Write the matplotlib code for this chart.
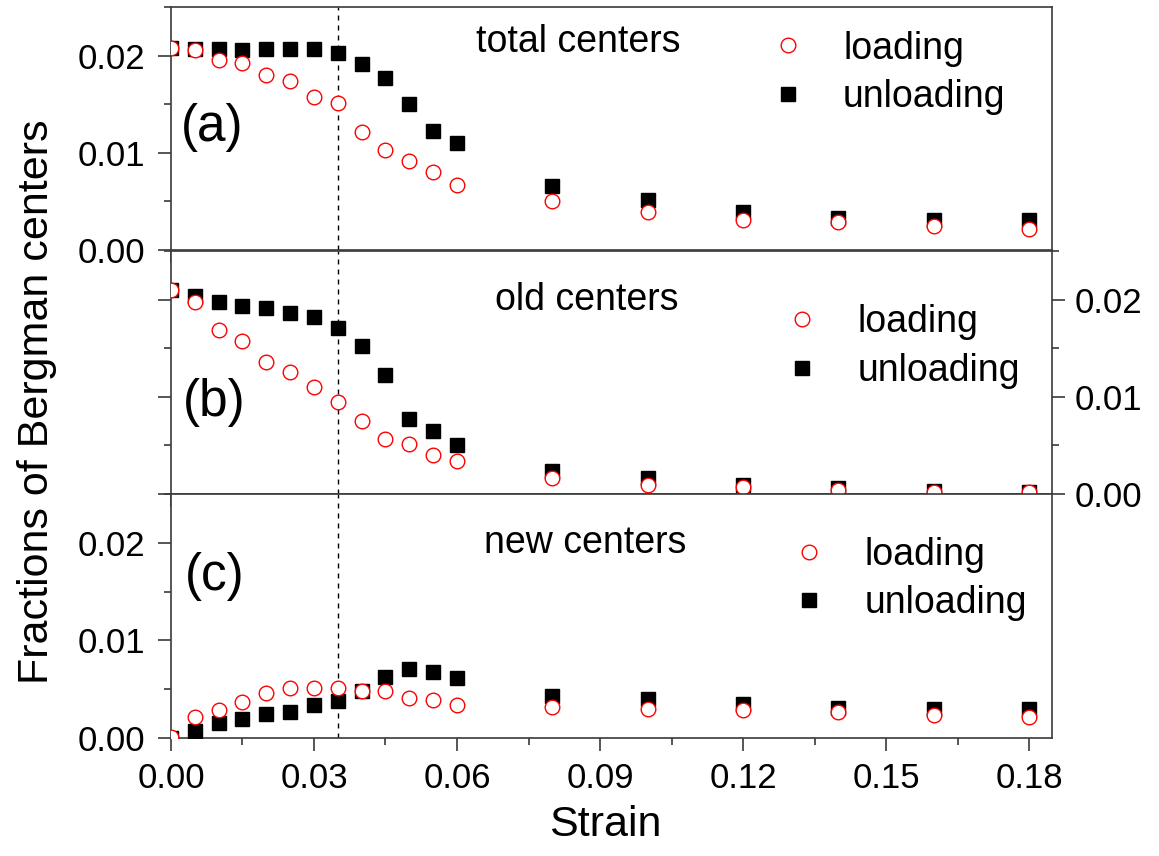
import matplotlib
matplotlib.use("Agg")
import matplotlib.pyplot as plt
from matplotlib.ticker import MultipleLocator, FormatStrFormatter

# strain values shared by all three panels
strain = [0.0, 0.005, 0.01, 0.015, 0.02, 0.025, 0.03, 0.035, 0.04, 0.045,
          0.05, 0.055, 0.06, 0.08, 0.10, 0.12, 0.14, 0.16, 0.18]

# (a) total centers
total_loading = [0.0208, 0.0206, 0.0195, 0.0192, 0.0180, 0.0174, 0.0157, 0.0151, 0.0121, 0.0103,
                 0.0092, 0.0080, 0.0067, 0.0050, 0.0039, 0.0031, 0.0029, 0.0025, 0.0022]
total_unloading = [0.0208, 0.0207, 0.0207, 0.0206, 0.0207, 0.0207, 0.0207, 0.0203, 0.0191, 0.0177,
                   0.0150, 0.0122, 0.0110, 0.0066, 0.0051, 0.0039, 0.0033, 0.0031, 0.0031]

# (b) old centers
old_loading = [0.0210, 0.0197, 0.0169, 0.0157, 0.0136, 0.0125, 0.0110, 0.0095, 0.0075, 0.0057,
               0.0051, 0.0040, 0.0034, 0.0016, 0.0009, 0.0007, 0.0004, 0.0002, 0.0002]
old_unloading = [0.0210, 0.0204, 0.0198, 0.0193, 0.0191, 0.0186, 0.0182, 0.0171, 0.0152, 0.0122,
                 0.0077, 0.0065, 0.0050, 0.0024, 0.0016, 0.0009, 0.0006, 0.0003, 0.0002]

# (c) new centers
new_loading = [0.0001, 0.0021, 0.0029, 0.0037, 0.0046, 0.0051, 0.0051, 0.0051, 0.0048, 0.0048,
               0.0041, 0.0039, 0.0034, 0.0032, 0.0030, 0.0029, 0.0027, 0.0024, 0.0021]
new_unloading = [0.0000, 0.0007, 0.0015, 0.0019, 0.0025, 0.0027, 0.0034, 0.0038, 0.0048, 0.0062,
                 0.0071, 0.0068, 0.0061, 0.0043, 0.0040, 0.0035, 0.0031, 0.0030, 0.0030]

critical_strain = 0.035

plt.rcParams["font.family"] = ["Liberation Sans", "DejaVu Sans"]

SPINE = "#3a3a3a"
TICK_FS = 25
TEXT_FS = 27
LEG_FS = 27
TAG_FS = 37

fig = plt.figure(figsize=(11.59, 8.56), dpi=100)
left, width = 0.1475, 0.7602
ax_a = fig.add_axes([left, 0.7079, width, 0.2839])
ax_b = fig.add_axes([left, 0.4229, width, 0.2839], sharex=ax_a)
ax_c = fig.add_axes([left, 0.1379, width, 0.2850], sharex=ax_a)


def draw_panel(ax, loading, unloading, title, title_xy, tag, tag_xy, leg_xy):
    h_un, = ax.plot(strain, unloading, "s", color="black", ms=10, zorder=3, label="unloading")
    h_lo, = ax.plot(strain, loading, "o", mfc="white", mec="red", ms=10.5, mew=1.0,
                    zorder=4, label="loading")
    ax.axvline(critical_strain, color="black", lw=1.0, ls=(0, (3.6, 3.6)), zorder=2)

    ax.set_xlim(0, 0.1848)
    ax.set_ylim(0, 0.025)
    ax.xaxis.set_major_locator(MultipleLocator(0.03))
    ax.xaxis.set_minor_locator(MultipleLocator(0.015))
    ax.yaxis.set_major_locator(MultipleLocator(0.01))
    ax.yaxis.set_minor_locator(MultipleLocator(0.005))
    ax.xaxis.set_major_formatter(FormatStrFormatter("%.2f"))
    ax.yaxis.set_major_formatter(FormatStrFormatter("%.2f"))

    for s in ax.spines.values():
        s.set_color(SPINE)
        s.set_linewidth(1.2)
    ax.tick_params(which="both", direction="out", colors=SPINE, width=1.2,
                   labelsize=TICK_FS, labelcolor="black", top=False, right=False)
    ax.tick_params(which="major", length=9.5)
    ax.tick_params(which="minor", length=5)
    ax.tick_params(axis="y", pad=9)
    ax.tick_params(axis="x", pad=8)

    ax.text(title_xy[0], title_xy[1], title, fontsize=TEXT_FS, ha="center", va="baseline")
    ax.text(tag_xy[0], tag_xy[1], tag, fontsize=TAG_FS, ha="left", va="center")
    ax.legend(handles=[h_lo, h_un], loc="upper left", bbox_to_anchor=leg_xy, frameon=False,
              fontsize=LEG_FS, handlelength=1.0, handletextpad=0.97, labelspacing=0.34,
              borderpad=0, borderaxespad=0)


draw_panel(ax_a, total_loading, total_unloading, "total centers", (0.0854, 0.0204),
           "(a)", (0.002, 0.0126), (0.679, 0.903))
draw_panel(ax_b, old_loading, old_unloading, "old centers", (0.0873, 0.0189),
           "(b)", (0.0025, 0.0094), (0.695, 0.780))
draw_panel(ax_c, new_loading, new_unloading, "new centers", (0.0868, 0.0190),
           "(c)", (0.003, 0.0165), (0.703, 0.825))

# only the bottom panel carries x labels
ax_a.tick_params(axis="x", labelbottom=False)
ax_b.tick_params(axis="x", labelbottom=False)

# middle panel: labels on the right side
ax_b.tick_params(axis="y", which="both", right=True, labelleft=False, labelright=True)
ax_b.tick_params(axis="y", pad=7)

fig.text(0.522, 0.0234, "Strain", fontsize=31, ha="center", va="baseline")
fig.text(0.032, 1 - 402 / 856, "Fractions of Bergman centers", fontsize=31,
         rotation=90, ha="center", va="center")

fig.savefig("out.png", dpi=100)
